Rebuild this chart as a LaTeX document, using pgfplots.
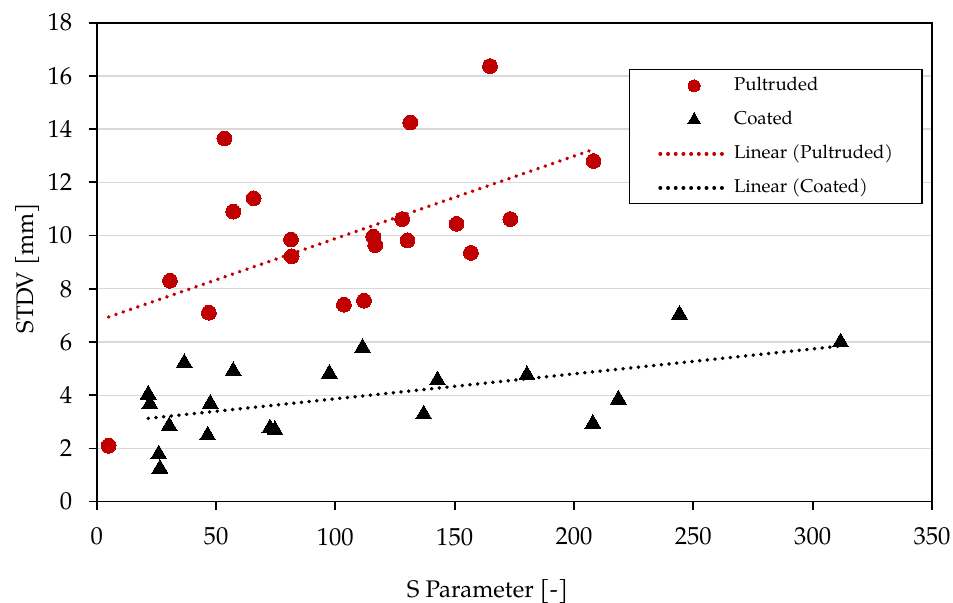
\documentclass[border=0pt]{standalone}
\usepackage{fontspec}
\setmainfont{TeX Gyre Pagella}
\usepackage{pgfplots}
\pgfplotsset{compat=1.18}
\definecolor{pultred}{HTML}{C00000}
\definecolor{gridgray}{HTML}{D9D9D9}

\begin{document}
\fontsize{12bp}{14bp}\selectfont
\begin{tikzpicture}
\begin{axis}[
  scale only axis,
  width=417.7bp, height=239.5bp,
  xmin=0, xmax=350, ymin=0, ymax=18,
  xtick={0,50,...,350}, ytick={0,2,...,18},
  axis line style={line width=0.85bp},
  tick style={line width=0.85bp, black},
  tick align=outside, major tick length=4bp,
  xtick pos=bottom, ytick pos=left,
  ymajorgrids, grid style={gridgray, line width=0.65bp},
  /pgf/number format/assume math mode=true,
  xticklabel style={font=\fontsize{12.3bp}{14bp}\selectfont, anchor=north, inner ysep=0pt, yshift=-9bp},
  yticklabel style={font=\fontsize{12.3bp}{14bp}\selectfont, anchor=east, inner xsep=0pt, xshift=-8bp},
  xlabel={S Parameter [-]}, ylabel={STDV [mm]},
  label style={font=\fontsize{13bp}{15bp}\selectfont},
  every axis x label/.style={at={(axis description cs:0.468,-0.188)}, anchor=center},
  every axis y label/.style={at={(axis description cs:-0.083,0.488)}, anchor=center, rotate=90},
  legend image code/.code={\draw[mark repeat=2,mark phase=2,#1] plot coordinates {(0bp,0bp) (17bp,0bp) (34bp,0bp)};},
  legend style={at={(0.637,0.903)}, anchor=north west, draw=black, line width=0.6bp,
    font=\fontsize{9.3bp}{11bp}\selectfont, inner xsep=14.5bp, inner ysep=3.5bp,
    nodes={inner sep=0pt, text height=6.8bp, text depth=2.2bp},
    row sep=8bp, /tikz/every odd column/.style={column sep=2bp}, cells={anchor=west}},
  legend cell align=left,
]
\addplot[only marks, mark=*, mark size=3.7bp, mark options={fill=pultred, draw=pultred, line width=0pt},
  legend image post style={mark size=3bp}] coordinates {
  (5,2.1) (30.7,8.3) (47,7.1) (53.5,13.65) (57.2,10.9) (65.8,11.4) (81.4,9.85) (81.7,9.22)
  (103.6,7.4) (112,7.55) (115.9,9.96) (116.7,9.64) (128,10.62) (130.2,9.82) (131.4,14.25)
  (150.8,10.44) (156.8,9.35) (164.8,16.37) (173.3,10.62) (208.2,12.8)
};
\addlegendentry{Pultruded}
\addplot[only marks, mark=triangle*, mark size=4.6bp, mark options={fill=black, draw=black, line width=0pt},
  legend image post style={mark size=3.6bp}] coordinates {
  (21.6,4.03) (22.3,3.67) (26.0,1.78) (26.5,1.24) (30.4,2.84) (36.7,5.21) (46.5,2.49) (47.6,3.68)
  (57.2,4.91) (72.6,2.76) (74.7,2.69) (97.5,4.81) (111.4,5.78) (137.0,3.28) (142.8,4.56)
  (180.3,4.76) (207.9,2.93) (218.6,3.84) (244.2,7.03) (311.7,5.99)
};
\addlegendentry{Coated}
\addplot[pultred, line width=1.85bp, line cap=round, dash pattern=on 0.1bp off 3.75bp] coordinates {
  (5,6.94) (208.2,13.24)
};
\addlegendentry{Linear (Pultruded)}
\addplot[black, line width=1.85bp, line cap=round, dash pattern=on 0.1bp off 3.75bp] coordinates {
  (21.6,3.13) (311.7,5.85)
};
\addlegendentry{Linear (Coated)}
\end{axis}
\pgfresetboundingbox
\path (current axis.south west) ++(-48.35bp,-50.65bp) coordinate (bbl);
\path (current axis.north east) ++(10.5bp,11.35bp) coordinate (btr);
\useasboundingbox (bbl) rectangle (btr);
\end{tikzpicture}
\end{document}
